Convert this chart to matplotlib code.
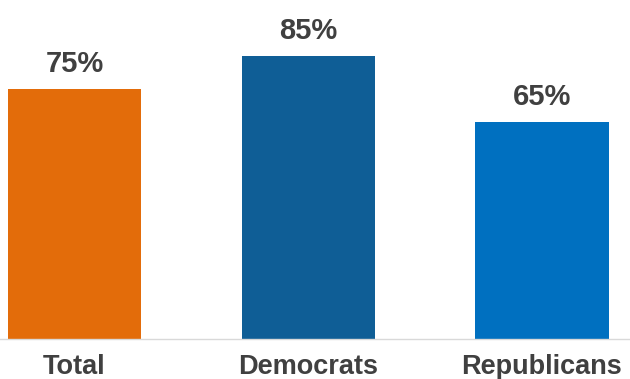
import matplotlib
matplotlib.use("Agg")
import matplotlib.pyplot as plt

categories = ["Total", "Democrats", "Republicans"]
values = [75, 85, 65]
labels = ["75%", "85%", "65%"]
colors = ["#E36C0A", "#0F5E96", "#0070C0"]

plt.rcParams['font.family'] = ['Liberation Sans', 'DejaVu Sans']

fig = plt.figure(figsize=(6.30, 3.79), dpi=100)
ax = fig.add_axes([0, 40/379, 1, 339/379])
x = list(range(len(categories)))
bars = ax.bar(x, values, width=0.57, color=colors)
ax.set_xlim(-0.3187, 2.3765)
ax.set_ylim(0, 101.7)
for xi, v, lab in zip(x, values, labels):
    ax.annotate(lab, (xi, v), xytext=(0, 8), textcoords="offset points",
                ha="center", va="bottom", fontsize=21, fontweight="bold", color="#404040")
ax.set_xticks(x)
ax.set_xticklabels(categories, fontsize=19.5, fontweight="bold", color="#404040")
ax.tick_params(axis="x", length=0, pad=11)
ax.set_yticks([])
for s in ["top", "left", "right"]:
    ax.spines[s].set_visible(False)
ax.spines["bottom"].set_color("#d9d9d9")
ax.spines["bottom"].set_linewidth(1)
fig.savefig("out.png", dpi=100)
